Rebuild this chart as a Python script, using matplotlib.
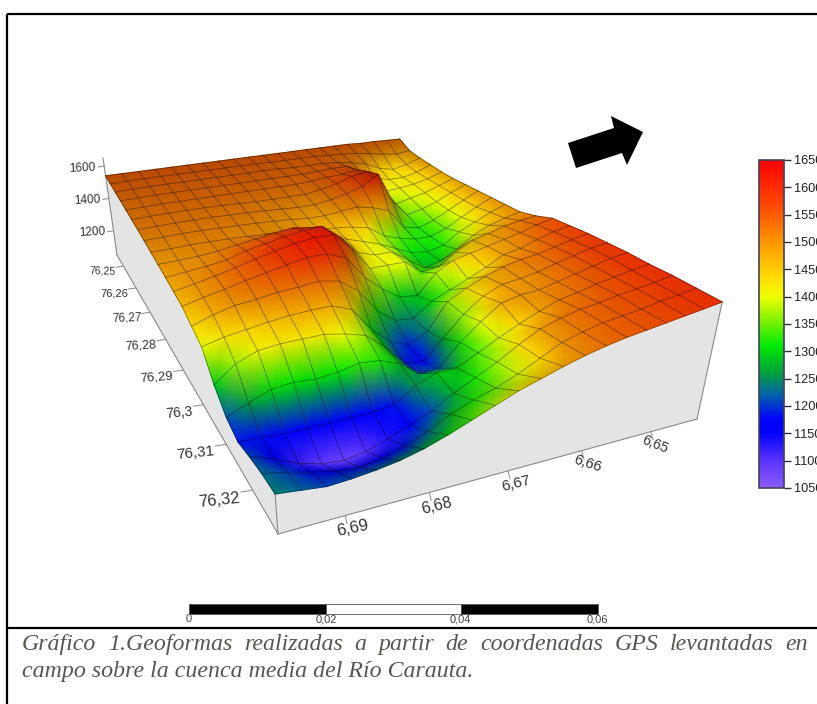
import numpy as np, matplotlib
matplotlib.use('Agg')
import matplotlib.pyplot as plt
from matplotlib.colors import LinearSegmentedColormap, Normalize
from matplotlib.cm import ScalarMappable
from matplotlib.patches import Polygon, Rectangle

W, H_PX = 817, 704
elev_rows = [  # back to front; columns run from lon 6.6975 to 6.643
[1540,1540,1540,1540,1540,1540,1540,1540,1540,1540,1540,1540,1540,1540,1540,1540,1540,1535,1535,1532,1530],
[1535,1537,1538,1538,1538,1538,1538,1538,1538,1538,1535,1535,1535,1535,1530,1525,1520,1505,1490,1480,1490],
[1530,1533,1535,1535,1535,1535,1535,1535,1535,1535,1535,1530,1530,1530,1525,1510,1490,1450,1430,1450,1480],
[1525,1528,1530,1530,1530,1530,1530,1530,1530,1530,1530,1530,1535,1540,1540,1490,1440,1420,1420,1440,1475],
[1520,1522,1525,1525,1525,1525,1525,1525,1525,1525,1525,1530,1540,1545,1560,1480,1400,1410,1420,1440,1470],
[1515,1518,1520,1520,1520,1518,1515,1510,1510,1510,1510,1525,1545,1575,1590,1480,1370,1390,1410,1440,1470],
[1510,1512,1515,1515,1515,1512,1510,1505,1500,1495,1495,1510,1530,1560,1615,1440,1350,1370,1400,1440,1475],
[1503,1505,1508,1508,1505,1503,1500,1495,1490,1480,1480,1490,1500,1480,1450,1340,1320,1350,1395,1440,1480],
[1495,1497,1500,1500,1498,1495,1490,1485,1475,1465,1460,1450,1430,1370,1340,1320,1320,1350,1400,1445,1485],
[1488,1490,1495,1505,1520,1535,1550,1560,1545,1490,1450,1420,1390,1350,1310,1300,1320,1380,1420,1460,1490],
[1480,1490,1500,1515,1545,1565,1585,1600,1605,1530,1430,1400,1400,1340,1280,1300,1350,1410,1450,1475,1495],
[1470,1490,1510,1535,1560,1585,1605,1618,1615,1520,1400,1400,1400,1330,1340,1400,1450,1470,1495,1510,1520],
[1460,1485,1505,1530,1550,1570,1590,1590,1550,1430,1350,1290,1280,1380,1430,1450,1470,1490,1510,1535,1555],
[1430,1465,1490,1500,1515,1520,1530,1510,1440,1320,1250,1240,1310,1350,1390,1430,1480,1495,1525,1550,1565],
[1400,1425,1440,1455,1465,1470,1470,1430,1310,1230,1190,1240,1370,1420,1460,1490,1510,1520,1540,1560,1575],
[1290,1370,1410,1420,1420,1420,1400,1370,1290,1190,1175,1270,1370,1440,1480,1490,1505,1530,1550,1570,1580],
[1215,1260,1300,1310,1300,1310,1330,1320,1280,1210,1215,1320,1400,1470,1490,1495,1515,1535,1555,1575,1585],
[1185,1180,1170,1170,1170,1170,1170,1185,1250,1290,1290,1340,1390,1435,1475,1510,1525,1545,1560,1575,1585],
[1210,1170,1120,1090,1080,1095,1130,1170,1210,1270,1320,1370,1430,1480,1510,1530,1540,1555,1565,1575,1590],
[1230,1205,1175,1150,1140,1155,1185,1225,1280,1320,1350,1390,1440,1490,1515,1535,1545,1555,1570,1580,1590],
[1240,1225,1210,1215,1225,1240,1265,1300,1340,1380,1420,1450,1480,1505,1525,1540,1550,1560,1570,1580,1590],
]
lon_ticks = [6.69, 6.68, 6.67, 6.66, 6.65]
lon_labels = ['6,69', '6,68', '6,67', '6,66', '6,65']
lat_ticks = [76.32, 76.31, 76.3, 76.29, 76.28, 76.27, 76.26, 76.25]
lat_labels = ['76,32', '76,31', '76,3', '76,29', '76,28', '76,27', '76,26', '76,25']
z_ticks = [1200, 1400, 1600]
z_labels = ['1200', '1400', '1600']
cbar_ticks = [1050, 1100, 1150, 1200, 1250, 1300, 1350, 1400, 1450, 1500, 1550, 1600, 1650]
scale_ticks = ['0', '0,02', '0,04', '0,06']
caption_1 = 'Gráfico 1.Geoformas realizadas a partir de coordenadas GPS levantadas en'
caption_2 = 'campo sobre la cuenca media del Río Carauta.'

Z = np.array(elev_rows, float)[::-1]      # index 0 = front edge
Z_BASE, Z_TOP = 1050.0, 1650.0
LON0, LON1 = 6.6975, 6.643
LAT0, LAT1 = 76.3283, 76.2445

cmap = LinearSegmentedColormap.from_list('relief', [
    (0/600, (140/255, 90/255, 1)), (50/600, (90/255, 50/255, 1)), (100/600, (0, 0, 1)),
    (125/600, (0, 0, 1)), (170/600, (0, 100/255, 170/255)), (210/600, (0, 160/255, 60/255)),
    (260/600, (0, 235/255, 0)), (300/600, (110/255, 240/255, 0)), (350/600, (240/255, 1, 0)),
    (385/600, (1, 220/255, 0)), (450/600, (1, 150/255, 0)), (520/600, (1, 70/255, 0)), (1, (1, 0, 0))])
norm = Normalize(Z_BASE, Z_TOP)

def homography(dst):
    src = [(0, 0), (1, 0), (0, 1), (1, 1)]
    A, b = [], []
    for (x, y), (X, Y) in zip(src, dst):
        A += [[x, y, 1, 0, 0, 0, -x*X, -y*X], [0, 0, 0, x, y, 1, -x*Y, -y*Y]]
        b += [X, Y]
    return np.append(np.linalg.solve(np.array(A, float), np.array(b, float)), 1).reshape(3, 3)

CAM_BASE = homography([(278, 534), (697, 419), (117, 255), (398.5, 211)])
CAM_TOP = homography([(269, 408), (725, 289), (103, 158), (400, 121)])

def plane(M, u, v):
    w = M[2, 0]*u + M[2, 1]*v + M[2, 2]
    return (M[0, 0]*u + M[0, 1]*v + M[0, 2])/w, (M[1, 0]*u + M[1, 1]*v + M[1, 2])/w

def project(lon, lat, z):
    u = (LON0 - np.asarray(lon))/(LON0 - LON1)
    v = (LAT0 - np.asarray(lat))/(LAT0 - LAT1)
    t = (np.asarray(z) - Z_BASE)/(Z_TOP - Z_BASE)
    ax_, ay_ = plane(CAM_BASE, u, v)
    bx_, by_ = plane(CAM_TOP, u, v)
    return ax_ + (bx_ - ax_)*t, ay_ + (by_ - ay_)*t

ny, nx = Z.shape
lons = np.linspace(LON0, LON1, nx)
lats = np.linspace(LAT0, LAT1, ny)
LON, LAT = np.meshgrid(lons, lats)
X, Y = project(LON, LAT, Z)

# relief shading from surface slope; high ground darkens toward the back
dzdv, dzdu = np.gradient(Z, 0.5)
K = 250.0
n = np.dstack([-dzdu, -dzdv, np.full_like(Z, K)])
n /= np.linalg.norm(n, axis=2, keepdims=True)
light = np.array([-0.25, -0.3, 0.92]); light /= np.linalg.norm(light)
shade = np.clip(0.15 + 0.95*np.clip(n @ light, 0, 1), 0, 0.98)
depth = 0.92 - 0.18*np.clip((np.arange(ny)[:, None]/(ny-1) - 0.45)/0.55, 0, 1)
depth = 1 - (1 - depth)*np.clip((Z - 1440)/60, 0, 1)
RGBA = cmap(norm(Z))
RGBA[..., :3] *= (shade*depth)[..., None]

plt.rcParams['font.family'] = ['Liberation Sans', 'DejaVu Sans']
fig = plt.figure(figsize=(W/100, H_PX/100), dpi=100, facecolor='white')
ax = fig.add_axes([0, 0, 1, 1])
ax.set_xlim(0, W); ax.set_ylim(H_PX, 0); ax.axis('off')

# box walls
WALL = '#e4e4e4'; EDGE = '#8a8a8a'
bx, by = project(lons, LAT0, Z_BASE)
ax.fill(np.r_[X[0], bx[::-1]], np.r_[Y[0], by[::-1]], color=WALL, lw=0, zorder=1)
lx, ly = project(LON0, lats, Z_BASE)
ax.fill(np.r_[X[:, 0], lx[::-1]], np.r_[Y[:, 0], ly[::-1]], color=WALL, lw=0, zorder=1)
ax.plot(bx, by, color=EDGE, lw=.8, zorder=2)
ax.plot(lx, ly, color=EDGE, lw=.8, zorder=2)
for lo, la in [(LON0, LAT0), (LON1, LAT0)]:
    k = 0 if lo == LON0 else -1
    tx, ty = project(lo, la, [Z_BASE, Z[0, k]])
    ax.plot(tx, ty, color=EDGE, lw=.8, zorder=2)
tx, ty = project(LON0, LAT1, [Z_BASE, Z_TOP])
ax.plot(tx, ty, color=EDGE, lw=.8, zorder=2)

# surface, painted strip by strip from back to front
z = 10
LINE = (0, 0, 0, .42)
for j in range(ny-2, -1, -1):
    ax.pcolormesh(X[j:j+2], Y[j:j+2], RGBA[j:j+2], shading='gouraud', zorder=z)
    ax.plot(X[j+1], Y[j+1], color=LINE, lw=.6, zorder=z+.5)
    for i in range(nx):
        ax.plot(X[j:j+2, i], Y[j:j+2, i], color=LINE, lw=.6, zorder=z+.5)
    z += 1
ax.plot(X[0], Y[0], color=(0, 0, 0, .3), lw=.6, zorder=z)
ax.set_xlim(0, W); ax.set_ylim(H_PX, 0)

TXT = '#333333'
lat_sizes = [12, 11, 10, 9.5, 9, 8.5, 8, 7.5]
lat_rot = [6, 6, 5, 4, 3, 2, 0, -2]
for la, lab, fs, r in zip(lat_ticks, lat_labels, lat_sizes, lat_rot):
    x0, y0 = project(LON0, la, Z_BASE)
    ax.plot([x0, x0-fs*1.0], [y0, y0+fs*.15], color=EDGE, lw=.7, zorder=2)
    ax.text(x0-fs*1.25+2, y0+fs*.55+1, lab, fontsize=fs, rotation=r, ha='right', va='center', color=TXT, rotation_mode='anchor')
lon_sizes = [12, 11.5, 11, 10.5, 10]
lon_rot = [12, 14, 14, -18, -22]
lon_dx = [8, 8, 8, 6, 4]
for lo, lab, fs, r, dx in zip(lon_ticks, lon_labels, lon_sizes, lon_rot, lon_dx):
    x0, y0 = project(lo, LAT0, Z_BASE)
    ax.plot([x0, x0+2], [y0, y0+8], color=EDGE, lw=.7, zorder=2)
    ax.text(x0+dx, y0+13, lab, fontsize=fs, rotation=r, ha='center', va='center', color=TXT, rotation_mode='anchor')
for zv, lab in zip(z_ticks, z_labels):
    x0, y0 = project(LON0, LAT1, zv)
    ax.plot([x0-6, x0], [y0+1, y0], color=EDGE, lw=.7, zorder=2)
    ax.text(x0-8, y0+2, lab, fontsize=8.5, rotation=3, ha='right', va='center', color=TXT)

# north arrow
ax.add_patch(Polygon([(568, 143), (614, 128), (611, 116), (643, 132), (627, 165), (622, 153), (576, 168)],
                     closed=True, fc='black', ec='none', zorder=30))

# frame
ax.plot([7.5, 7.5], [14, H_PX], color='black', lw=1.6, zorder=40, solid_capstyle='butt')
ax.plot([7.5, W], [14, 14], color='black', lw=1.6, zorder=40, solid_capstyle='butt')
ax.plot([7.5, W], [627.7, 627.7], color='black', lw=1.6, zorder=40, solid_capstyle='butt')

# scale bar
sb_x = [189, 326, 460.7, 597.7]
for a, b, c in zip(sb_x[:-1], sb_x[1:], ['black', 'white', 'black']):
    ax.add_patch(Rectangle((a, 604), b-a, 10, fc=c, ec='#555555', lw=.6, zorder=30))
for x0, lab in zip(sb_x, scale_ticks):
    ax.text(x0, 619.5, lab, fontsize=8, ha='center', va='center', color='#444444')

# caption
CAP = '#55584f'
CAP_FS = 17.2
r = fig.canvas.get_renderer()
ax.text(22, 677, caption_2, fontsize=CAP_FS, family=['Liberation Serif'], style='italic', color=CAP, va='baseline')
words = caption_1.split(' ')
tmp = [ax.text(0, 650, w, fontsize=CAP_FS, family=['Liberation Serif'], style='italic', color=CAP, va='baseline') for w in words]
ws = [t.get_window_extent(r).width for t in tmp]
gap = (808 - 22 - sum(ws))/(len(words)-1)
x0 = 22.0
for t, w_ in zip(tmp, ws):
    t.set_x(x0); x0 += w_ + gap

# colour bar
cax = fig.add_axes([759/W, 1-488/H_PX, 25/W, (488-160)/H_PX])
cb = fig.colorbar(ScalarMappable(norm, cmap), cax=cax, ticks=cbar_ticks)
cb.ax.tick_params(length=5, width=1, color='#333333', labelsize=9.2, pad=2, labelcolor='#222222')
cb.outline.set_edgecolor('#404060'); cb.outline.set_linewidth(1.2)

fig.savefig('out.png', dpi=100)
